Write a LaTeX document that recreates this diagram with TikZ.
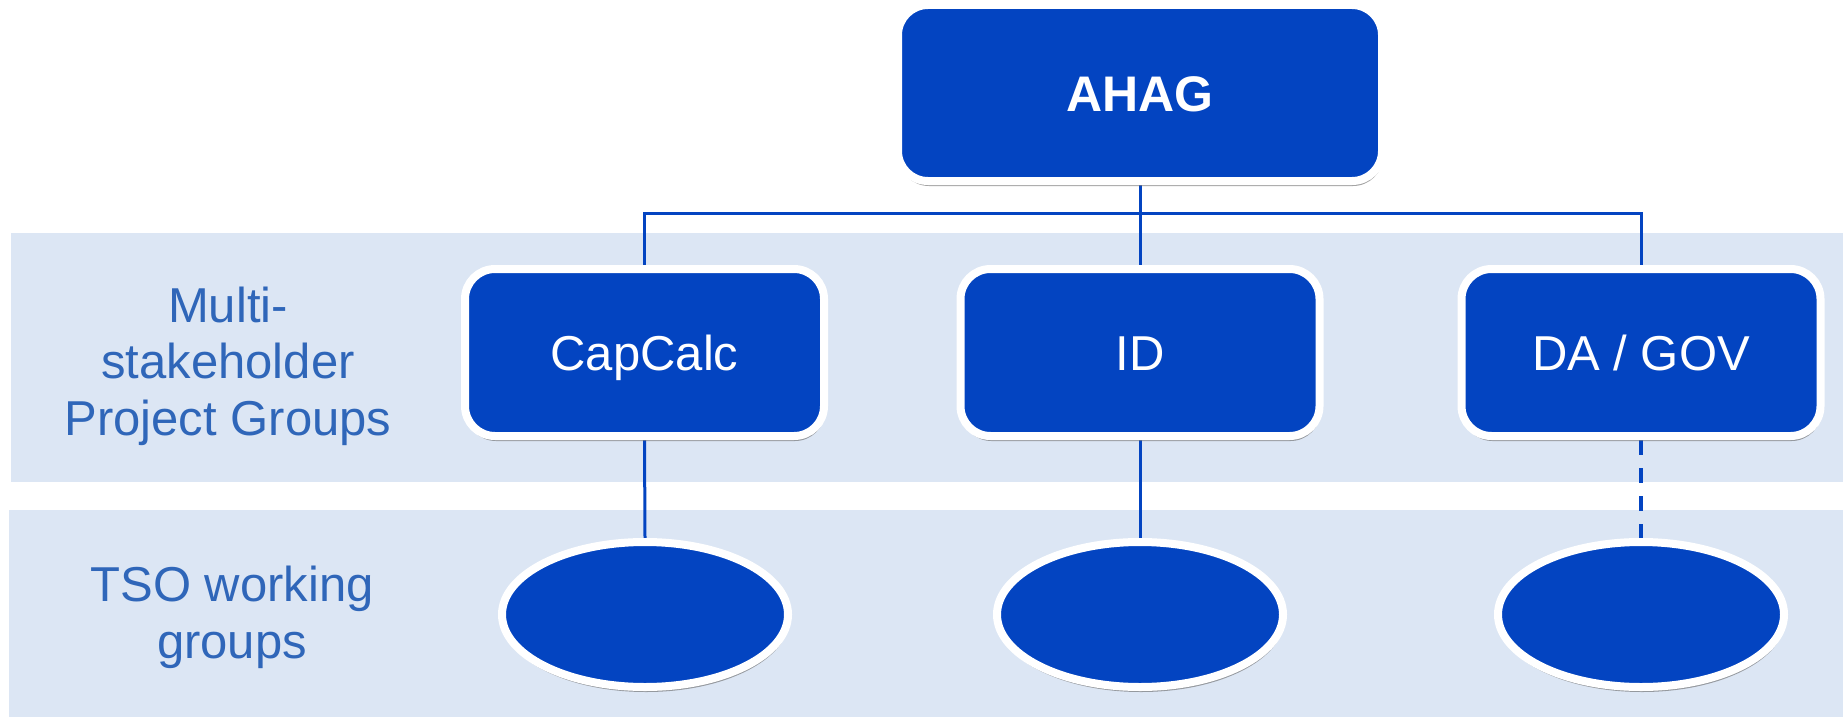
\documentclass[tikz,border=0pt]{standalone}
\usepackage{fontspec}
\setmainfont{Liberation Sans}
\usetikzlibrary{shapes.geometric,shadows}
\definecolor{boxblue}{HTML}{0344C1}
\definecolor{bandblue}{HTML}{DCE6F4}
\definecolor{labtext}{HTML}{2F66B9}
\pgfdeclarelayer{bands}
\pgfdeclarelayer{lines}
\pgfsetlayers{bands,lines,main}
\begin{document}
\begin{tikzpicture}[x=1pt,y=-1pt,
  shadowed/.style={drop shadow={shadow xshift=1pt, shadow yshift=-5pt, fill=black!60, opacity=0.6}},
  boxnode/.style={rectangle, rounded corners=30pt, fill=boxblue, draw=white, line width=8pt,
    minimum width=359pt, minimum height=167pt, inner sep=0pt, text=white,
    font=\fontsize{49}{56}\selectfont, text height=35pt, text depth=0pt, shadowed},
  topbox/.style={boxnode, minimum width=484pt, minimum height=176pt,
    font=\fontsize{50}{56}\selectfont\bfseries, text height=36pt},
  wgnode/.style={ellipse, fill=boxblue, draw=white, line width=8pt,
    minimum width=286pt, minimum height=145pt, inner sep=0pt, shadowed},
  lab/.style={align=center, inner sep=0pt, text=labtext, font=\fontsize{49}{56.5}\selectfont},
  conn/.style={draw=boxblue, line width=3pt},
  dconn/.style={draw=boxblue, line width=4pt, dash pattern=on 15pt off 13pt}
]
\useasboundingbox (0,0) rectangle (1843,717);
\begin{pgfonlayer}{bands}
  \fill[white] (0,0) rectangle (1843,717);
  \fill[bandblue] (11,233) rectangle (1843,482);
  \fill[bandblue] (9,510) rectangle (1843,717);
\end{pgfonlayer}

\node[topbox] (ahag) at (1140,93) {AHAG};
\node[boxnode] (capcalc) at (644.5,352.5) {CapCalc};
\node[boxnode] (id) at (1140,352.5) {ID};
\node[boxnode] (dagov) at (1641,352.5) {DA / GOV};

\node[wgnode] (wg1) at (645,614.5) {};
\node[wgnode] (wg2) at (1140,614.5) {};
\node[wgnode] (wg3) at (1641,614.5) {};

\node[lab] (lab1) at (228,366) {Multi-\\stakeholder\\Project Groups};
\node[lab] (lab2) at (232,617.5) {TSO working\\groups};

\coordinate (bus) at (0,213);
\begin{pgfonlayer}{lines}
  \draw[conn] (ahag.south) -- (id.north);
  \draw[conn] (capcalc.north) -- (capcalc.north |- bus) -- (dagov.north |- bus) -- (dagov.north);
  \draw[conn] (capcalc.south) -- (wg1.north);
  \draw[conn] (id.south) -- (wg2.north);
  \draw[dconn] (dagov.south) -- (wg3.north);
\end{pgfonlayer}
\end{tikzpicture}
\end{document}
